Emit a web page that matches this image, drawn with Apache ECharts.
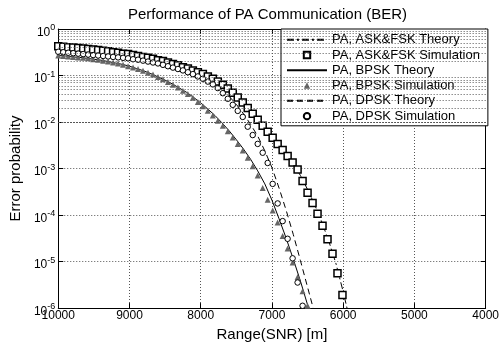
<!DOCTYPE html>
<html>
<head>
<meta charset="utf-8">
<script src="https://cdn.jsdelivr.net/npm/echarts@6/dist/echarts.min.js"></script>
<style>
html, body { margin: 0; padding: 0; background: #fff; }
#chart { width: 502px; height: 347px; }
</style>
</head>
<body>
<div id="chart"></div>
<script>
// simulated ranges [m]
var simRange = [10000, 9930, 9860, 9790, 9720, 9650, 9580, 9510, 9440, 9370, 9300, 9230, 9160, 9090, 9020,
    8950, 8880, 8810, 8740, 8670, 8600, 8530, 8460, 8390, 8320, 8250, 8180, 8110, 8040,
    7970, 7900, 7830, 7760, 7690, 7620, 7550, 7480, 7410, 7340, 7270, 7200, 7130, 7060,
    6990, 6920, 6850, 6780, 6710, 6640, 6570, 6500, 6430, 6360, 6290, 6220, 6150, 6080, 6010];

// log10 of error probability
var askSimExp = [-0.37, -0.38, -0.39, -0.40, -0.41, -0.42, -0.43, -0.44, -0.45, -0.47, -0.48, -0.50, -0.51, -0.53, -0.54,
    -0.56, -0.58, -0.60, -0.62, -0.64, -0.67, -0.69, -0.72, -0.75, -0.78, -0.82, -0.85, -0.89, -0.93,
    -0.97, -1.02, -1.07, -1.13, -1.20, -1.28, -1.37, -1.47, -1.58, -1.70, -1.82, -1.95, -2.08, -2.21,
    -2.34, -2.47, -2.60, -2.73, -2.87, -3.02, -3.27, -3.52, -3.74, -3.97, -4.23, -4.52, -4.83, -5.25, -5.72];
var bpskSimExp = [-0.57, -0.58, -0.59, -0.60, -0.61, -0.62, -0.63, -0.65, -0.66, -0.68, -0.70, -0.72, -0.74, -0.77, -0.80,
    -0.83, -0.86, -0.90, -0.94, -0.98, -1.03, -1.08, -1.14, -1.20, -1.26, -1.33, -1.40, -1.48, -1.57,
    -1.66, -1.76, -1.86, -1.97, -2.08, -2.20, -2.33, -2.47, -2.61, -2.77, -2.95, -3.15, -3.42, -3.67,
    -3.90, -4.16, -4.45, -4.72, -5.02, -5.33, -5.64, -5.95];
var dpskSimExp = [-0.49, -0.50, -0.51, -0.52, -0.53, -0.54, -0.55, -0.56, -0.57, -0.58, -0.59, -0.60, -0.61, -0.62, -0.63,
    -0.65, -0.66, -0.68, -0.70, -0.72, -0.74, -0.77, -0.80, -0.83, -0.86, -0.89, -0.93, -0.97, -1.02,
    -1.07, -1.13, -1.19, -1.27, -1.38, -1.50, -1.63, -1.76, -1.89, -2.10, -2.28, -2.47, -2.66, -2.88,
    -3.33, -3.75, -4.13, -4.51, -4.93, -5.45, -5.95];

// theory curves
var theoryRange = [10000, 9900, 9800, 9700, 9600, 9500, 9400, 9300, 9200, 9100,
    9000, 8900, 8800, 8700, 8600, 8500, 8400, 8300, 8200, 8100,
    8000, 7900, 7800, 7700, 7600, 7500, 7400, 7300, 7200, 7100,
    7000, 6900, 6800, 6700, 6600, 6500, 6400, 6300, 6200, 6100, 6000, 5900];
var askTheoryExp = [-0.37, -0.38, -0.40, -0.41, -0.43, -0.44, -0.46, -0.48, -0.50, -0.52,
    -0.55, -0.57, -0.60, -0.63, -0.67, -0.70, -0.74, -0.79, -0.84, -0.89,
    -0.95, -1.02, -1.10, -1.19, -1.30, -1.43, -1.58, -1.75, -1.93, -2.12,
    -2.31, -2.51, -2.70, -2.90, -3.15, -3.45, -3.78, -4.15, -4.57, -5.05, -5.65, -6.30];
var bpskTheoryExp = [-0.57, -0.58, -0.60, -0.61, -0.63, -0.65, -0.67, -0.70, -0.73, -0.76,
    -0.80, -0.85, -0.90, -0.96, -1.03, -1.10, -1.18, -1.27, -1.36, -1.47,
    -1.59, -1.72, -1.86, -2.02, -2.19, -2.38, -2.58, -2.80, -3.05, -3.33,
    -3.68, -4.08, -4.50, -4.95, -5.42, -5.93, -6.45];
var dpskTheoryExp = [-0.49, -0.50, -0.52, -0.53, -0.55, -0.56, -0.58, -0.59, -0.61, -0.62,
    -0.64, -0.66, -0.68, -0.71, -0.74, -0.77, -0.81, -0.85, -0.90, -0.96,
    -1.04, -1.11, -1.20, -1.31, -1.45, -1.62, -1.82, -2.05, -2.30, -2.62,
    -2.98, -3.42, -3.90, -4.42, -4.98, -5.55, -6.12];

var berTarget = 1e-4;
var xTicks = [10000, 9000, 8000, 7000, 6000, 5000, 4000];

var FONT = 'Liberation Sans';

function pairs(xs, exps) {
    var out = [];
    for (var i = 0; i < exps.length; i++) {
        out.push([xs[i], Math.pow(10, exps[i])]);
    }
    return out;
}

// dotted minor grid at 2..9 of each decade
var minorLines = [];
for (var e = -6; e < 0; e++) {
    for (var k = 2; k <= 9; k++) {
        minorLines.push({ yAxis: k * Math.pow(10, e) });
    }
}

var dotted = { color: '#555', type: [1, 2], width: 1 };
var noMarker = { opacity: 0 };

var chart = echarts.init(document.getElementById('chart'));

var option = {
    animation: false,
    backgroundColor: '#fff',
    textStyle: { fontFamily: FONT },
    title: {
        text: 'Performance of PA Communication (BER)',
        left: 128,
        top: 7,
        padding: 0,
        textStyle: { fontFamily: FONT, fontSize: 15, fontWeight: 'normal', color: '#000' }
    },
    grid: { left: 58, right: 11, top: 29, bottom: 35 },
    legend: {
        orient: 'vertical',
        left: 281,
        top: 29,
        itemWidth: 40,
        itemHeight: 8,
        itemGap: 0,
        padding: [3, 8, 2, 5],
        backgroundColor: '#fff',
        borderColor: '#000',
        borderWidth: 1,
        borderRadius: 0,
        selectedMode: false,
        textStyle: { fontFamily: FONT, fontSize: 13, color: '#000', lineHeight: 15.3 },
        data: [
            { name: 'PA, ASK&FSK Theory', itemStyle: noMarker },
            { name: 'PA, ASK&FSK Simulation' },
            { name: 'PA, BPSK Theory', itemStyle: noMarker },
            { name: 'PA, BPSK Simulation' },
            { name: 'PA, DPSK Theory', itemStyle: noMarker },
            { name: 'PA, DPSK Simulation' }
        ]
    },
    xAxis: [{
        type: 'value',
        inverse: true,
        min: xTicks[xTicks.length - 1],
        max: xTicks[0],
        interval: 1000,
        name: 'Range(SNR) [m]',
        nameLocation: 'middle',
        nameGap: 18,
        nameTextStyle: { fontFamily: FONT, fontSize: 15, color: '#000' },
        axisLine: { lineStyle: { color: '#000', width: 1 } },
        axisTick: { inside: true, length: 5, lineStyle: { color: '#000' } },
        axisLabel: {
            fontFamily: FONT, fontSize: 12, color: '#000', margin: 2,
            formatter: function (v) { return String(v); }
        },
        splitLine: { show: true, lineStyle: dotted }
    }, {
        type: 'value',
        position: 'top',
        inverse: true,
        min: xTicks[xTicks.length - 1],
        max: xTicks[0],
        interval: 1000,
        axisLine: { lineStyle: { color: '#000', width: 1 } },
        axisTick: { inside: true, length: 5, lineStyle: { color: '#000' } },
        axisLabel: { show: false },
        splitLine: { show: false }
    }],
    yAxis: [{
        type: 'log',
        logBase: 10,
        min: 1e-6,
        max: 1,
        name: 'Error probability',
        nameLocation: 'middle',
        nameGap: 33,
        nameTextStyle: { fontFamily: FONT, fontSize: 15, color: '#000' },
        axisLine: { show: true, lineStyle: { color: '#000', width: 1 } },
        axisTick: { show: true, inside: true, length: 5, lineStyle: { color: '#000' } },
        axisLabel: {
            margin: 3,
            color: '#000',
            fontFamily: FONT,
            formatter: function (v) {
                var p = Math.round(Math.log(v) / Math.LN10);
                return '{b|10}{e|' + p + '}';
            },
            rich: {
                b: { fontFamily: FONT, fontSize: 12, lineHeight: 12, padding: [7, 0, 0, 0], color: '#000' },
                e: { fontFamily: FONT, fontSize: 9, lineHeight: 10, verticalAlign: 'top', color: '#000' }
            }
        },
        splitLine: { show: true, lineStyle: dotted }
    }, {
        type: 'log',
        logBase: 10,
        min: 1e-6,
        max: 1,
        position: 'right',
        axisLine: { show: true, lineStyle: { color: '#000', width: 1 } },
        axisTick: { show: true, inside: true, length: 5, lineStyle: { color: '#000' } },
        axisLabel: { show: false },
        splitLine: { show: false }
    }],
    series: [{
        name: 'grid-minor',
        type: 'line',
        data: [],
        silent: true,
        markLine: {
            silent: true,
            symbol: 'none',
            label: { show: false },
            lineStyle: dotted,
            data: minorLines
        }
    }, {
        name: 'target',
        type: 'line',
        data: [],
        silent: true,
        z: 3,
        markLine: {
            silent: true,
            symbol: 'none',
            label: { show: false },
            lineStyle: { color: '#000', width: 2, type: 'solid' },
            data: [{ yAxis: berTarget }]
        }
    }, {
        name: 'PA, ASK&FSK Theory',
        type: 'line',
        symbol: 'none',
        data: pairs(theoryRange, askTheoryExp),
        lineStyle: { color: '#000', width: 1, type: [7, 3, 2, 3] },
        itemStyle: { color: '#000' }
    }, {
        name: 'PA, ASK&FSK Simulation',
        type: 'line',
        symbol: 'rect',
        symbolSize: 7,
        showAllSymbol: true,
        data: pairs(simRange, askSimExp),
        lineStyle: { opacity: 0 },
        itemStyle: { color: '#fff', borderColor: '#000', borderWidth: 1.5 },
        z: 4
    }, {
        name: 'PA, BPSK Theory',
        type: 'line',
        symbol: 'none',
        data: pairs(theoryRange, bpskTheoryExp),
        lineStyle: { color: '#000', width: 1, type: 'solid' },
        itemStyle: { color: '#000' }
    }, {
        name: 'PA, BPSK Simulation',
        type: 'line',
        symbol: 'triangle',
        symbolSize: 6,
        showAllSymbol: true,
        data: pairs(simRange, bpskSimExp),
        lineStyle: { opacity: 0 },
        itemStyle: { color: '#666' },
        z: 4
    }, {
        name: 'PA, DPSK Theory',
        type: 'line',
        symbol: 'none',
        data: pairs(theoryRange, dpskTheoryExp),
        lineStyle: { color: '#000', width: 1, type: [6, 4] },
        itemStyle: { color: '#000' }
    }, {
        name: 'PA, DPSK Simulation',
        type: 'line',
        symbol: 'circle',
        symbolSize: 5.5,
        showAllSymbol: true,
        data: pairs(simRange, dpskSimExp),
        lineStyle: { opacity: 0 },
        itemStyle: { color: '#fff', borderColor: '#000', borderWidth: 1 },
        z: 4
    }]
};

chart.setOption(option);
</script>
</body>
</html>
